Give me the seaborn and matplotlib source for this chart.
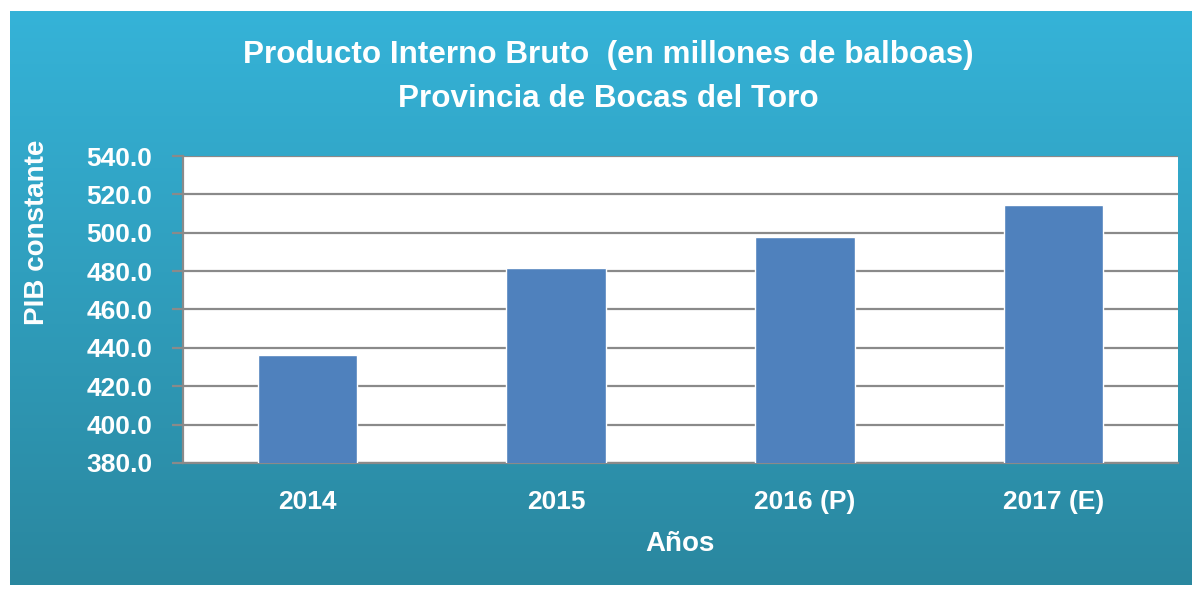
import numpy as np
import pandas as pd
import matplotlib
matplotlib.use("Agg")
import matplotlib.pyplot as plt
from matplotlib.colors import LinearSegmentedColormap
import seaborn as sns

# data
years = ["2014", "2015", "2016 (P)", "2017 (E)"]
pib = [436.3, 481.4, 498.0, 514.6]

df = pd.DataFrame({"Año": years, "PIB": pib})

sns.set_style("white")
plt.rcParams["font.family"] = ["Liberation Sans", "DejaVu Sans"]
plt.rcParams["font.weight"] = "bold"

fig = plt.figure(figsize=(11.92, 5.90), dpi=100)

# gradient panel behind the chart
bg = fig.add_axes([10 / 1192, 5 / 590, 1 - 10 / 1192, 1 - 16 / 590], zorder=0)
grad = np.linspace(0, 1, 256).reshape(-1, 1)
cmap = LinearSegmentedColormap.from_list("bg", ["#35b3d8", "#2a879f"])
bg.imshow(grad, aspect="auto", cmap=cmap, extent=[0, 1, 0, 1])
bg.axis("off")

ax = fig.add_axes([183 / 1192, 1 - 463 / 590, (1178 - 183) / 1192, (463 - 156) / 590], zorder=1)
ax.set_facecolor("white")
sns.barplot(data=df, x="Año", y="PIB", color="#4f81bd", width=0.4, saturation=1, ax=ax, zorder=3)

ax.set_ylim(380, 540)
ax.set_yticks(np.arange(380, 541, 20))
ax.set_yticklabels([f"{v:.1f}" for v in np.arange(380, 541, 20)])
ax.yaxis.grid(True, color="#8a8a8a", linewidth=1.6, zorder=0)
ax.set_axisbelow(True)
for s in ["top", "right"]:
    ax.spines[s].set_visible(False)
for s in ["left", "bottom"]:
    ax.spines[s].set_color("#8a8a8a")
    ax.spines[s].set_linewidth(1.6)

ax.tick_params(axis="y", which="major", left=True, length=8, width=1.6, color="#8a8a8a",
               labelsize=19, labelcolor="white", pad=14)
ax.tick_params(axis="x", bottom=False, labelsize=19, labelcolor="white", pad=16)

ax.set_xlabel("Años", fontsize=20, color="white", fontweight="bold", labelpad=12)
ax.set_ylabel("PIB constante", fontsize=20, color="white", fontweight="bold")
ax.yaxis.set_label_coords(-0.134, 0.75)
for lab in ax.get_xticklabels() + ax.get_yticklabels():
    lab.set_fontweight("bold")

fig.text(0.51, 1 - 55 / 590, "Producto Interno Bruto  (en millones de balboas)", ha="center", va="center",
         fontsize=22.6, color="white", fontweight="bold")
fig.text(0.51, 1 - 99 / 590, "Provincia de Bocas del Toro", ha="center", va="center",
         fontsize=22.6, color="white", fontweight="bold")

fig.savefig("out.png", dpi=100, facecolor="white")
